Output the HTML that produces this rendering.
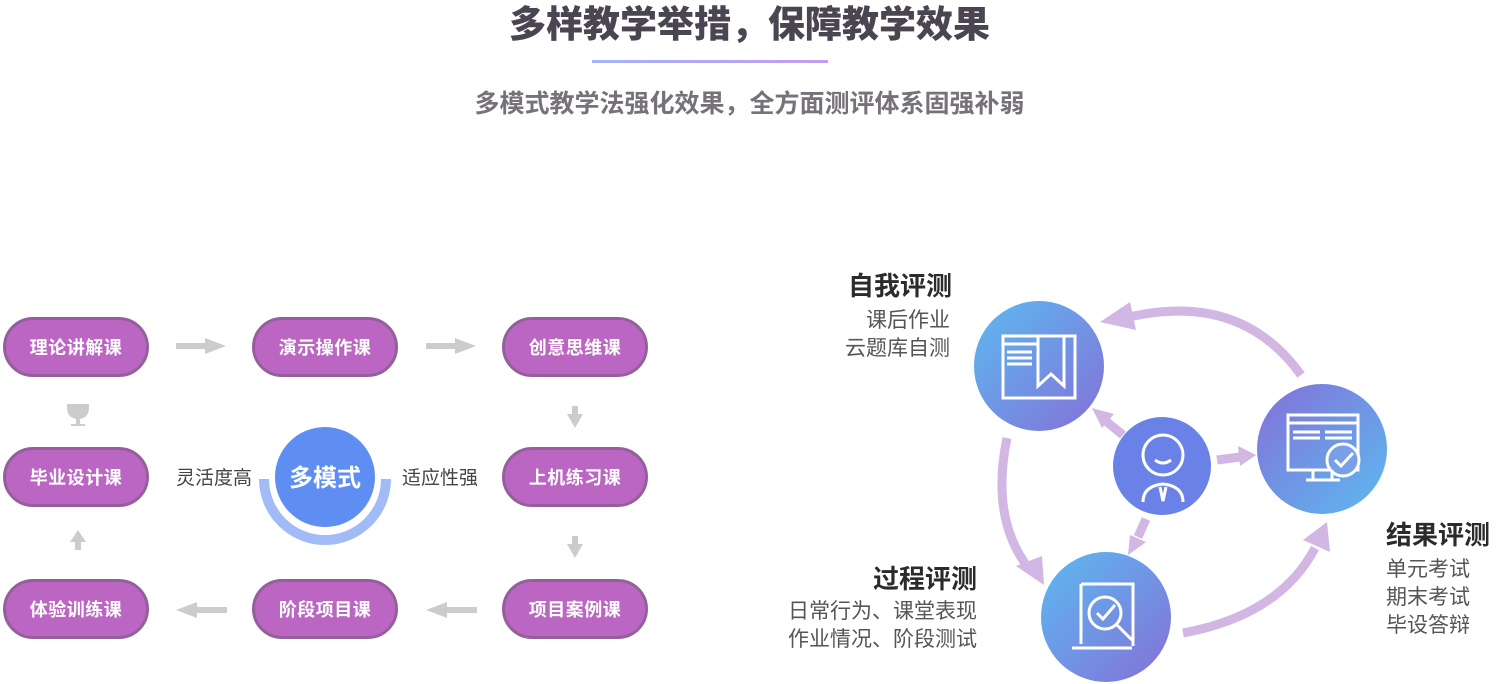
<!DOCTYPE html>
<html><head><meta charset="utf-8">
<style>
*{margin:0;padding:0;box-sizing:border-box}
body{width:1499px;height:684px;background:#fff;position:relative;overflow:hidden;font-family:"Liberation Sans","Noto Sans CJK SC",sans-serif}
.a{position:absolute;white-space:nowrap}
.pill{position:absolute;width:146px;height:60px;border-radius:30px;background:#bb66c2;border:3px solid #94609c;color:#fff;font-weight:bold;font-size:18px;display:flex;align-items:center;justify-content:center;letter-spacing:0.5px}
.h{font-weight:bold;font-size:26px;color:#2b2b2b}
.s{font-size:21px;color:#555;line-height:28px}
</style></head><body>
<div class="a" style="left:0;width:1499px;top:-6px;text-align:center;font-size:37px;font-weight:900;color:#4a4550">多样教学举措，保障教学效果</div>
<div class="a" style="left:592px;top:60px;width:236px;height:3px;background:linear-gradient(90deg,#a3b4f8,#c39cf2)"></div>
<div class="a" style="left:0;width:1499px;top:84px;text-align:center;font-size:25px;font-weight:bold;color:#77727a">多模式教学法强化效果，全方面测评体系固强补弱</div>

<div class="pill" style="left:3px;top:317px">理论讲解课</div>
<div class="pill" style="left:252px;top:317px">演示操作课</div>
<div class="pill" style="left:502px;top:317px">创意思维课</div>
<div class="pill" style="left:3px;top:447px">毕业设计课</div>
<div class="pill" style="left:502px;top:447px">上机练习课</div>
<div class="pill" style="left:3px;top:579px">体验训练课</div>
<div class="pill" style="left:252px;top:579px">阶段项目课</div>
<div class="pill" style="left:502px;top:579px">项目案例课</div>

<svg class="a" style="left:0;top:0" width="700" height="684">
<g fill="#cccccc">
<rect x="176" y="343" width="30" height="6"/><polygon points="205,338 226,346 205,354"/>
<rect x="426" y="343" width="30" height="6"/><polygon points="455,338 476,346 455,354"/>
<rect x="447" y="607" width="30" height="6"/><polygon points="447,602 426,610 447,618"/>
<rect x="197" y="607" width="30" height="6"/><polygon points="197,602 176,610 197,618"/>
<rect x="572" y="406" width="6" height="10"/><polygon points="567,414 583,414 575,428"/>
<rect x="572" y="536" width="6" height="10"/><polygon points="567,544 583,544 575,558"/>
<rect x="75" y="540" width="6" height="10"/><polygon points="70,542 86,542 78,530"/>
<path d="M67,404 h22 v4 q0,9 -9,11 v5 h5 v2 h-14 v-2 h5 v-5 q-9,-2 -9,-11z"/>
</g>
<path d="M264,479 A61,61 0 0 0 386,479" fill="none" stroke="#a0bbf6" stroke-width="10"/>
<circle cx="325" cy="477" r="53" fill="#fff"/>
<circle cx="325" cy="477" r="50" fill="#5f8ef2"/>
<text x="325" y="486" text-anchor="middle" font-size="24" font-weight="bold" fill="#fff" font-family="Liberation Sans,Noto Sans CJK SC,sans-serif">多模式</text>
<text x="214" y="484" text-anchor="middle" font-size="19" fill="#444" font-family="Liberation Sans,Noto Sans CJK SC,sans-serif">灵活度高</text>
<text x="440" y="484" text-anchor="middle" font-size="19" fill="#444" font-family="Liberation Sans,Noto Sans CJK SC,sans-serif">适应性强</text>
</svg>

<svg class="a" style="left:700px;top:200px" width="799" height="484" viewBox="700 200 799 484">
<defs>
<linearGradient id="g" x1="0" y1="0" x2="1" y2="1"><stop offset="0" stop-color="#5cbaf0"/><stop offset="1" stop-color="#8470d8"/></linearGradient>
<linearGradient id="g2" x1="1" y1="1" x2="0" y2="0"><stop offset="0" stop-color="#5cbaf0"/><stop offset="1" stop-color="#8470d8"/></linearGradient>
</defs>
<g fill="none" stroke="#d2b6e4" stroke-width="9">
<path d="M1301,375 Q1240,290 1125,318"/>
<path d="M1007,438 Q990,520 1030,570"/>
<path d="M1183,633 Q1280,615 1315,548"/>
<path d="M1123,435 L1102,418"/>
<path d="M1217,460 L1240,457"/>
<path d="M1146,519 L1138,537"/>
</g>
<g fill="#d2b6e4">
<polygon points="1100,322 1130,302 1136,330"/>
<polygon points="1044,585 1016,566 1042,556"/>
<polygon points="1327,522 1330,552 1303,540"/>
<polygon points="1092,408 1114,414 1102,428"/>
<polygon points="1256,455 1238,446 1240,466"/>
<polygon points="1128,555 1130,535 1146,542"/>
</g>
<circle cx="1039" cy="366" r="65" fill="url(#g)"/>
<circle cx="1322" cy="449" r="65" fill="url(#g2)"/>
<circle cx="1106" cy="617" r="65" fill="url(#g)"/>
<circle cx="1162" cy="466" r="49" fill="#6a82e8"/>
<g fill="none" stroke="#fff" stroke-width="3">
<rect x="1003" y="336" width="72" height="62"/><line x1="1003" y1="344" x2="1038" y2="344"/>
<path d="M1038,336 V386 L1051,374 L1064,386 V336"/>
<line x1="1007" y1="352" x2="1032" y2="352"/><line x1="1007" y1="358" x2="1032" y2="358"/><line x1="1007" y1="364" x2="1032" y2="364"/>
<rect x="1288" y="415" width="70" height="55"/><line x1="1288" y1="423" x2="1358" y2="423"/>
<line x1="1293" y1="432" x2="1320" y2="432"/><line x1="1325" y1="432" x2="1352" y2="432"/><line x1="1293" y1="438" x2="1320" y2="438"/><line x1="1325" y1="438" x2="1352" y2="438"/>
<circle cx="1343" cy="460" r="16" fill="#78a0e8"/><path d="M1335,460 l6,6 l12,-13"/>
<path d="M1313,470 v9 M1332,470 v9 M1306,480 h34"/>
<path d="M1081,584 h52 v62 M1081,584 v60 M1072,648 h60"/>
<circle cx="1105" cy="613" r="16"/><path d="M1097,613 l6,6 l12,-14"/><path d="M1117,625 l15,15"/>
<circle cx="1163" cy="455" r="20"/><path d="M1143,502 q0,-16 20,-18 q20,2 20,18 M1160,487 l3,14 l3,-14"/>
<path d="M1155,460 q8,6 16,0"/>
</g>
</svg>

<div class="a h" style="right:547px;top:266px">自我评测</div>
<div class="a s" style="right:549px;top:307px;text-align:right">课后作业<br>云题库自测</div>
<div class="a h" style="right:522px;top:559px">过程评测</div>
<div class="a s" style="right:522px;top:598px;text-align:right">日常行为、课堂表现<br>作业情况、阶段测试</div>
<div class="a h" style="left:1386px;top:515px">结果评测</div>
<div class="a s" style="left:1386px;top:556px">单元考试<br>期末考试<br>毕设答辩</div>
</body></html>
